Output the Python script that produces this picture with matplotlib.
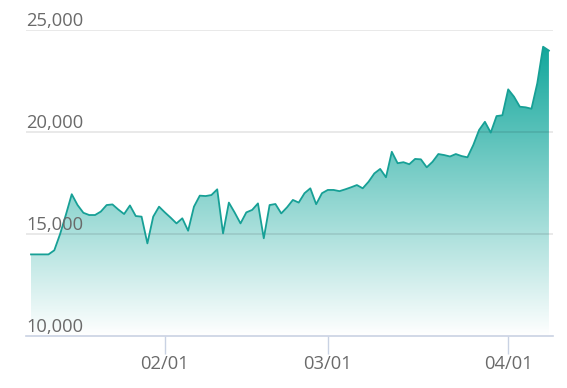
import numpy as np
import pandas as pd
import matplotlib
matplotlib.use("Agg")
import matplotlib.pyplot as plt
import matplotlib.dates as mdates
from matplotlib.colors import LinearSegmentedColormap

plt.rcParams['font.family'] = ['Open Sans', 'DejaVu Sans']

# daily values, 2023-01-09 .. 2023-04-08
dates = pd.date_range("2023-01-09", "2023-04-08", freq="D")
values = [
    14000, 14000, 14000, 14000, 14200, 15000, 15950, 16950, 16420, 16040,
    15930, 15930, 16100, 16420, 16450, 16200, 15980, 16400, 15880, 15850,
    14540, 15850, 16340, 16060, 15800, 15520, 15770, 15160, 16340, 16880,
    16860, 16910, 17190, 15030, 16540, 16050, 15520, 16060, 16180, 16500,
    14790, 16420, 16470, 16010, 16310, 16670, 16540, 17000, 17240, 16460,
    17000, 17160, 17160, 17100, 17190, 17290, 17400, 17240, 17560, 17970,
    18190, 17780, 19030, 18470, 18520, 18420, 18680, 18660, 18270, 18540,
    18920, 18870, 18800, 18920, 18820, 18760, 19360, 20100, 20500, 19970,
    20780, 20820, 22090, 21730, 21240, 21210, 21140, 22390, 24180, 23990,
]
y_ticks = [10000, 15000, 20000, 25000]
x_ticks = pd.to_datetime(["2023-02-01", "2023-03-01", "2023-04-01"])

line_color = "#17a096"
top_color = "#12a79c"
axis_color = "#c9d2e3"
text_color = "#6a6a6a"

fig = plt.figure(figsize=(5.67, 3.88), dpi=100)
ax = fig.add_axes([26 / 567, 52 / 388, 527 / 567, 306 / 388])

x = mdates.date2num(dates)
y = np.array(values)

# gradient fill clipped to the area under the line
cmap = LinearSegmentedColormap.from_list("fade", ["#ffffff", top_color])
grad = np.linspace(0, 1, 256).reshape(-1, 1)
img = ax.imshow(grad, cmap=cmap, aspect="auto", origin="lower",
                extent=[x[0], x[-1], 10000, y.max()], zorder=1)
poly = ax.fill_between(x, y, 10000, color="none", lw=0)
clip = plt.Polygon(poly.get_paths()[0].vertices, transform=ax.transData)
img.set_clip_path(clip)
ax.set_xlim(x[0] - 0.86, x[0] + 89.7)
ax.set_ylim(10000, 25000)

ax.plot(x, y, color=line_color, lw=1.3, zorder=3)

for v in y_ticks[1:]:
    ax.axhline(v, color="black", alpha=0.1, lw=1.2, zorder=2)
for v in y_ticks:
    ax.text(0, v, f"{v:,}", transform=ax.get_yaxis_transform(),
            ha="left", va="bottom", fontsize=13.2, color=text_color)

for s in ["top", "right", "left"]:
    ax.spines[s].set_visible(False)
ax.spines["bottom"].set_color(axis_color)
ax.spines["bottom"].set_linewidth(1.2)
ax.spines["bottom"].set_zorder(4)

ax.set_yticks([])
ax.set_xticks(mdates.date2num(x_ticks))
ax.set_xticklabels([d.strftime("%m/%d") for d in x_ticks])
ax.tick_params(axis="x", length=13, width=1, color=axis_color,
               labelcolor=text_color, labelsize=13.2, pad=1)

fig.savefig("out.png", dpi=100)
